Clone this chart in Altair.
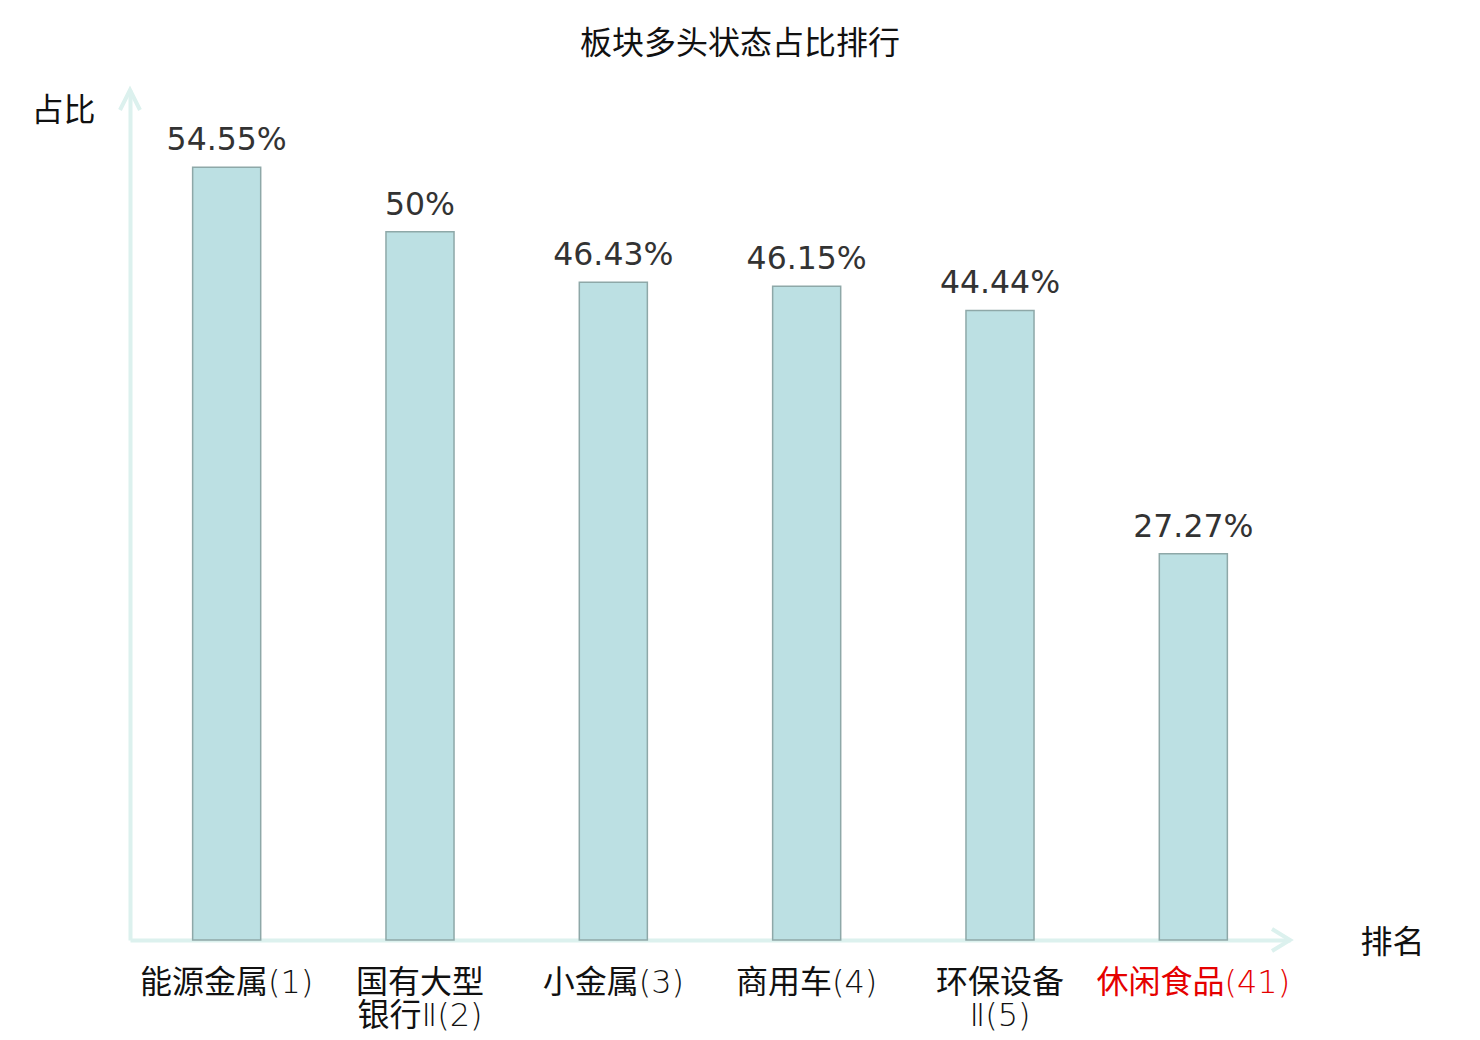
import altair as alt
import pandas as pd

categories = ["能源金属(1)", "国有大型\n银行Ⅱ(2)", "小金属(3)", "商用车(4)", "环保设备\nⅡ(5)", "休闲食品(41)"]
values = [54.55, 50, 46.43, 46.15, 44.44, 27.27]
highlight = "休闲食品(41)"
chart_title = "板块多头状态占比排行"
y_title = "占比"
x_title = "排名"

FONT = "DejaVu Sans, Noto Sans CJK SC"
LABEL_FONT = "'DejaVu Sans ExtraLight', 'DejaVu Sans Light', 'Noto Sans CJK SC'"
AXIS_COLOR = "#dcf1ee"

df = pd.DataFrame({"cat": categories, "val": values})
one = pd.DataFrame({"t": [chart_title]})

x_enc = alt.X(
    "cat:N",
    sort=None,
    scale=alt.Scale(paddingInner=0, paddingOuter=0),
    axis=alt.Axis(
        title=x_title,
        titleFont=FONT, titleFontSize=32, titleFontWeight="normal", titleColor="#111111",
        titleAngle=0, titleAlign="center", titleBaseline="middle",
        titleX=1262, titleY=2,
        labelFont=LABEL_FONT, labelFontSize=32, labelAngle=0, labelLimit=0,
        labelColor=alt.ExprRef(f"datum.value == '{highlight}' ? '#e50000' : '#111111'"),
        labelExpr="split(datum.label, '\\n')",
        labelLineHeight=33, labelPadding=27,
        ticks=False, tickSize=0,
        domainColor=AXIS_COLOR, domainWidth=4,
    ),
)
y_enc = alt.Y(
    "val:Q",
    scale=alt.Scale(domain=[0, 60], nice=False),
    axis=alt.Axis(
        title=y_title,
        titleFont=FONT, titleFontSize=32, titleFontWeight="normal", titleColor="#111111",
        titleAngle=0, titleAlign="center", titleBaseline="middle",
        titleX=-67, titleY=20,
        labels=False, ticks=False, tickSize=0, grid=False,
        domainColor=AXIS_COLOR, domainWidth=4,
    ),
)

bars = alt.Chart(df).mark_bar(
    width=alt.RelativeBandSize(0.352),
    fill="#bce0e3", stroke="#8ea8a8", strokeWidth=1.5,
).encode(x=x_enc, y=y_enc)

labels = alt.Chart(df).transform_calculate(
    lbl="toString(datum.val) + '%'"
).mark_text(
    font=FONT, fontSize=31.5, color="#333333", baseline="alphabetic", dy=-17,
).encode(x=alt.X("cat:N", sort=None), y="val:Q", text="lbl:N")

title_mark = alt.Chart(one).mark_text(
    font=FONT, fontSize=32, color="#111111", baseline="middle", align="center",
).encode(x=alt.value(610), y=alt.value(-46), text="t:N")

arrow_up = alt.Chart(one).mark_point(
    shape="M-1,2L0,0L1,2", size=400, filled=False,
    stroke=AXIS_COLOR, strokeWidth=4, opacity=1,
).encode(x=alt.value(0), y=alt.value(0))

arrow_right = alt.Chart(one).mark_point(
    shape="M-1.8,-1.1L0,0L-1.8,1.1", size=400, filled=False,
    stroke=AXIS_COLOR, strokeWidth=4, opacity=1,
).encode(x=alt.value(1160), y=alt.value(850))

chart = alt.layer(bars, labels, title_mark, arrow_up, arrow_right).properties(
    width=1160, height=850,
    autosize=alt.AutoSizeParams(type="none"),
    padding={"left": 122, "top": 82, "right": 180, "bottom": 100},
).configure(background="white", view=alt.ViewConfig(stroke=None))

chart.save("out.html", embed_options={"renderer": "svg", "actions": False})
